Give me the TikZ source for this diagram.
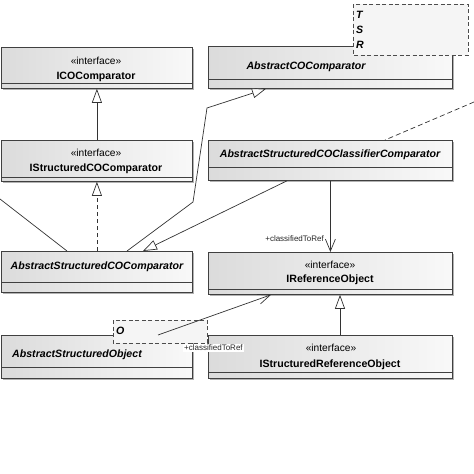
\documentclass[tikz,border=0pt]{standalone}
\usepackage{fontspec}
\setmainfont{Liberation Sans}
\usetikzlibrary{arrows.meta,shadows}

\tikzset{
  classbox/.style={rectangle, draw=black!75, line width=0.8pt, inner sep=0pt, anchor=north west,
    left color=gray!28, right color=gray!5,
    drop shadow={shadow xshift=2pt, shadow yshift=-2pt, fill=gray!60, opacity=1}},
  tparam/.style={draw=black!70, dash pattern=on 4pt off 2.5pt, line width=0.8pt, fill=gray!8},
  divline/.style={draw=black!75, line width=0.8pt},
  stereo/.style={font=\fontsize{10.2}{12}\selectfont, inner sep=0pt},
  cname/.style={font=\fontsize{10.6}{12}\selectfont\bfseries, inner sep=0pt},
  aname/.style={font=\fontsize{10.6}{12}\selectfont\bfseries\itshape, inner sep=0pt},
  role/.style={font=\fontsize{8}{9}\selectfont, inner sep=1pt, text=black!85},
  conn/.style={draw=black!80, line width=0.7pt},
  gen/.style={conn, -{Triangle[length=14pt, width=10pt, fill=white]}},
  nav/.style={conn, -{Straight Barb[length=12pt, width=10pt]}},
}

\begin{document}
\begin{tikzpicture}[x=1pt, y=-1pt]
  \useasboundingbox (0,0) rectangle (474,474);

  % classes
  \node[classbox, minimum width=191pt, minimum height=41pt] (ico) at (1,47) {};
  \node[classbox, minimum width=244pt, minimum height=42pt] (aco) at (208,46) {};
  \node[classbox, minimum width=191pt, minimum height=41pt] (isco) at (1,140) {};
  \node[classbox, minimum width=244pt, minimum height=40pt] (ascc) at (208,140) {};
  \node[classbox, minimum width=191pt, minimum height=41pt] (asco) at (1,251) {};
  \node[classbox, minimum width=244pt, minimum height=42pt] (iro) at (208,252) {};
  \node[classbox, minimum width=191pt, minimum height=43pt] (aso) at (1,335) {};
  \node[classbox, minimum width=244pt, minimum height=43pt] (isro) at (208,335) {};

  % compartments
  \draw[divline] ([yshift=5pt]ico.south west) -- ([yshift=5pt]ico.south east);
  \draw[divline] ([yshift=9pt]aco.south west) -- ([yshift=9pt]aco.south east);
  \draw[divline] ([yshift=4pt]isco.south west) -- ([yshift=4pt]isco.south east);
  \draw[divline] ([yshift=13pt]ascc.south west) -- ([yshift=13pt]ascc.south east);
  \draw[divline] ([yshift=10pt]asco.south west) -- ([yshift=10pt]asco.south east);
  \draw[divline] ([yshift=5pt]iro.south west) -- ([yshift=5pt]iro.south east);
  \draw[divline] ([yshift=11pt]aso.south west) -- ([yshift=11pt]aso.south east);
  \draw[divline] ([yshift=6pt]isro.south west) -- ([yshift=6pt]isro.south east);

  % names
  \node[stereo] (ico-st) at (96,61) {«interface»};
  \node[cname] (ico-nm) at (96,77) {ICOComparator};
  \node[aname] (aco-nm) at (306,67) {AbstractCOComparator};
  \node[stereo] (isco-st) at (96,153) {«interface»};
  \node[cname] (isco-nm) at (96,169) {IStructuredCOComparator};
  \node[aname] (ascc-nm) at (330,155) {AbstractStructuredCOClassifierComparator};
  \node[aname] (asco-nm) at (97,267) {AbstractStructuredCOComparator};
  \node[stereo] (iro-st) at (330,265) {«interface»};
  \node[cname] (iro-nm) at (330,280) {IReferenceObject};
  \node[aname] (aso-nm) at (77,355) {AbstractStructuredObject};
  \node[stereo] (isro-st) at (331,348) {«interface»};
  \node[cname] (isro-nm) at (330,365) {IStructuredReferenceObject};

  % template parameters
  \draw[tparam] (353,4) rectangle (468,55);
  \node[aname, anchor=west] (tp-t) at (356,15) {T};
  \node[aname, anchor=west] (tp-s) at (356,30) {S};
  \node[aname, anchor=west] (tp-r) at (356,45) {R};
  \draw[tparam] (113,320) rectangle (207,343);
  \node[aname, anchor=west] (tp-o) at (116,331) {O};

  % connectors
  \coordinate (leftend) at (0,199);
  \coordinate (rightend) at (474,102);
  \coordinate (bendA) at (193,202);
  \coordinate (bendB) at (207,108);

  \draw[gen] (isco.north) -- (ico.south);
  \draw[gen, dash pattern=on 4pt off 3pt] (asco.north) -- (isco.south);
  \draw[conn] (leftend) -- ([xshift=66pt]asco.north west);
  \draw[gen] ([xshift=126pt]asco.north west) -- (bendA) -- (bendB) -- ([xshift=58pt]aco.south west);
  \draw[gen] ([xshift=79pt]ascc.south west) -- ([xshift=142pt]asco.north west);
  \draw[conn, dash pattern=on 5pt off 3pt] (rightend) -- ([xshift=177pt]ascc.north west);
  \draw[nav] (ascc.south) -- (iro.north);
  \node[role, anchor=east] (role1) at (325,239) {+classifiedToRef};
  \draw[gen] ([xshift=132pt]isro.north west) -- ([xshift=132pt]iro.south west);
  \draw[nav] ([xshift=157pt]aso.north west) -- ([xshift=63pt]iro.south west);
  \node[role, anchor=west, fill=white] (role2) at (183,348) {+classifiedToRef};
\end{tikzpicture}
\end{document}
